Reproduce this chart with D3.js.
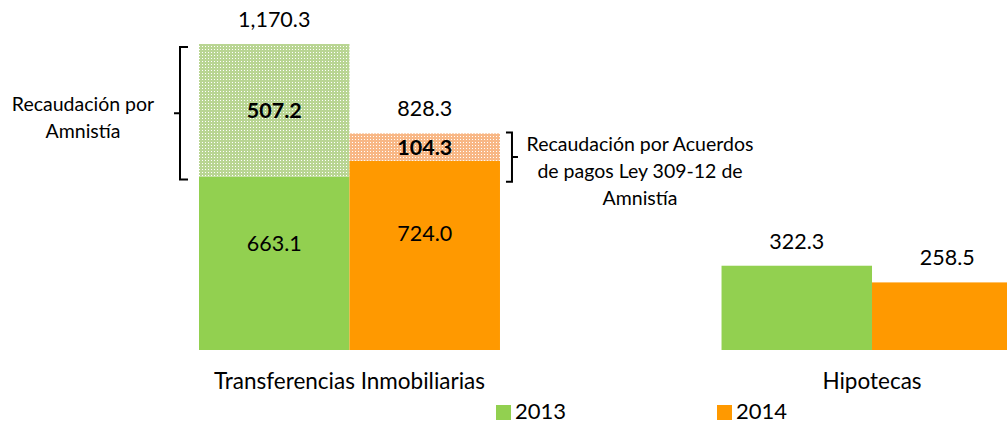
<!DOCTYPE html>
<html><head><meta charset="utf-8">
<script src="https://cdn.jsdelivr.net/npm/d3@7"></script>
<style>body{margin:0;background:#fff}text{font-family:Lato,"Open Sans",sans-serif;fill:#000}</style>
</head><body>
<svg id="c" width="1007" height="425"></svg>
<script>
const categories = ["Transferencias Inmobiliarias", "Hipotecas"];
const years = ["2013", "2014"];
const base2013 = [663.1, 322.3];
const base2014 = [724.0, 258.5];
const amnesty2013 = [507.2, 0];
const amnesty2014 = [104.3, 0];
const colors = {"2013": "#92D050", "2014": "#FF9900"};
const hatchColors = {"2013": "#b9d593", "2014": "#f8b785"};
const fmt = d3.format(",.1f");

const svg = d3.select("#c");
const defs = svg.append("defs");
years.forEach(y => {
  const p = defs.append("pattern").attr("id", "h" + y).attr("width", 3).attr("height", 3)
    .attr("patternUnits", "userSpaceOnUse");
  p.append("rect").attr("width", 3).attr("height", 3).attr("fill", hatchColors[y]);
  p.append("rect").attr("x", 1).attr("y", 1).attr("width", 1).attr("height", 1).attr("fill", "#fff");
});

const x = d3.scaleBand().domain(categories).range([199, 1022.5]).paddingInner(0.424).paddingOuter(0);
const xs = d3.scaleBand().domain(years).range([0, x.bandwidth()]);
const y = d3.scaleLinear().domain([0, base2013[0] + amnesty2013[0]]).range([350, 44]);

const rows = [];
categories.forEach((c, i) => {
  rows.push({c, yr: "2013", base: base2013[i], extra: amnesty2013[i]});
  rows.push({c, yr: "2014", base: base2014[i], extra: amnesty2014[i]});
});

const VF = 21.5;
const g = svg.append("g");
rows.forEach(r => {
  const x0 = x(r.c) + xs(r.yr), w = xs.bandwidth(), cx = x0 + w / 2;
  g.append("rect").attr("x", x0).attr("y", y(r.base)).attr("width", w)
    .attr("height", y(0) - y(r.base)).attr("fill", colors[r.yr]);
  if (r.extra > 0) {
    g.append("rect").attr("x", x0).attr("y", y(r.base + r.extra)).attr("width", w)
      .attr("height", y(r.base) - y(r.base + r.extra)).attr("fill", "url(#h" + r.yr + ")");
    g.append("text").attr("x", cx).attr("y", (y(r.base) + y(r.base + r.extra)) / 2 + 8)
      .attr("text-anchor", "middle").attr("font-size", VF).attr("font-weight", "bold").text(fmt(r.extra));
    g.append("text").attr("x", cx).attr("y", y(r.base) + (y(0) - y(r.base)) * 0.38 + 8)
      .attr("text-anchor", "middle").attr("font-size", VF).text(fmt(r.base));
    g.append("text").attr("x", cx).attr("y", y(r.base + r.extra) - 17)
      .attr("text-anchor", "middle").attr("font-size", VF).text(fmt(r.base + r.extra));
  } else {
    g.append("text").attr("x", cx).attr("y", y(r.base) - 17)
      .attr("text-anchor", "middle").attr("font-size", VF).text(fmt(r.base));
  }
});

// category labels
categories.forEach(c => {
  svg.append("text").attr("x", x(c) + x.bandwidth() / 2).attr("y", 389)
    .attr("text-anchor", "middle").attr("font-size", 22.5).text(c);
});

// legend
const leg = [{yr: "2013", x: 496}, {yr: "2014", x: 717}];
leg.forEach(l => {
  svg.append("rect").attr("x", l.x).attr("y", 405).attr("width", 15).attr("height", 15).attr("fill", colors[l.yr]);
  svg.append("text").attr("x", l.x + 19).attr("y", 419).attr("font-size", 22).text(l.yr);
});

// brackets
const c0 = categories[0];
const leftTop = y(base2013[0] + amnesty2013[0]) + 3, leftBot = y(base2013[0]) + 3;
const bx = x(c0) - 19;
svg.append("path").attr("fill", "none").attr("stroke", "#000").attr("stroke-width", 2)
  .attr("d", `M${bx + 8},${leftTop} H${bx} V${leftBot} H${bx + 8} M${bx},${(leftTop + leftBot) / 2} H${bx - 6}`);
svg.append("text").attr("text-anchor", "middle").attr("font-size", 19.5)
  .selectAll("tspan").data(["Recaudación por", "Amnistía"]).join("tspan")
  .attr("x", 83).attr("y", (d, i) => (leftTop + leftBot) / 2 - 2 + i * 27).text(d => d);

const rTop = y(base2014[0] + amnesty2014[0]) - 1, rBot = y(base2014[0]) + 21;
const rx = x(c0) + x.bandwidth() + 12;
svg.append("path").attr("fill", "none").attr("stroke", "#000").attr("stroke-width", 2)
  .attr("d", `M${rx - 6},${rTop} H${rx} V${rBot} H${rx - 6} M${rx},${(rTop + rBot) / 2} H${rx + 6}`);
svg.append("text").attr("text-anchor", "middle").attr("font-size", 19.5)
  .selectAll("tspan").data(["Recaudación por Acuerdos", "de pagos Ley 309-12 de", "Amnistía"]).join("tspan")
  .attr("x", 640).attr("y", (d, i) => 151 + i * 27).text(d => d);
</script>
</body></html>
